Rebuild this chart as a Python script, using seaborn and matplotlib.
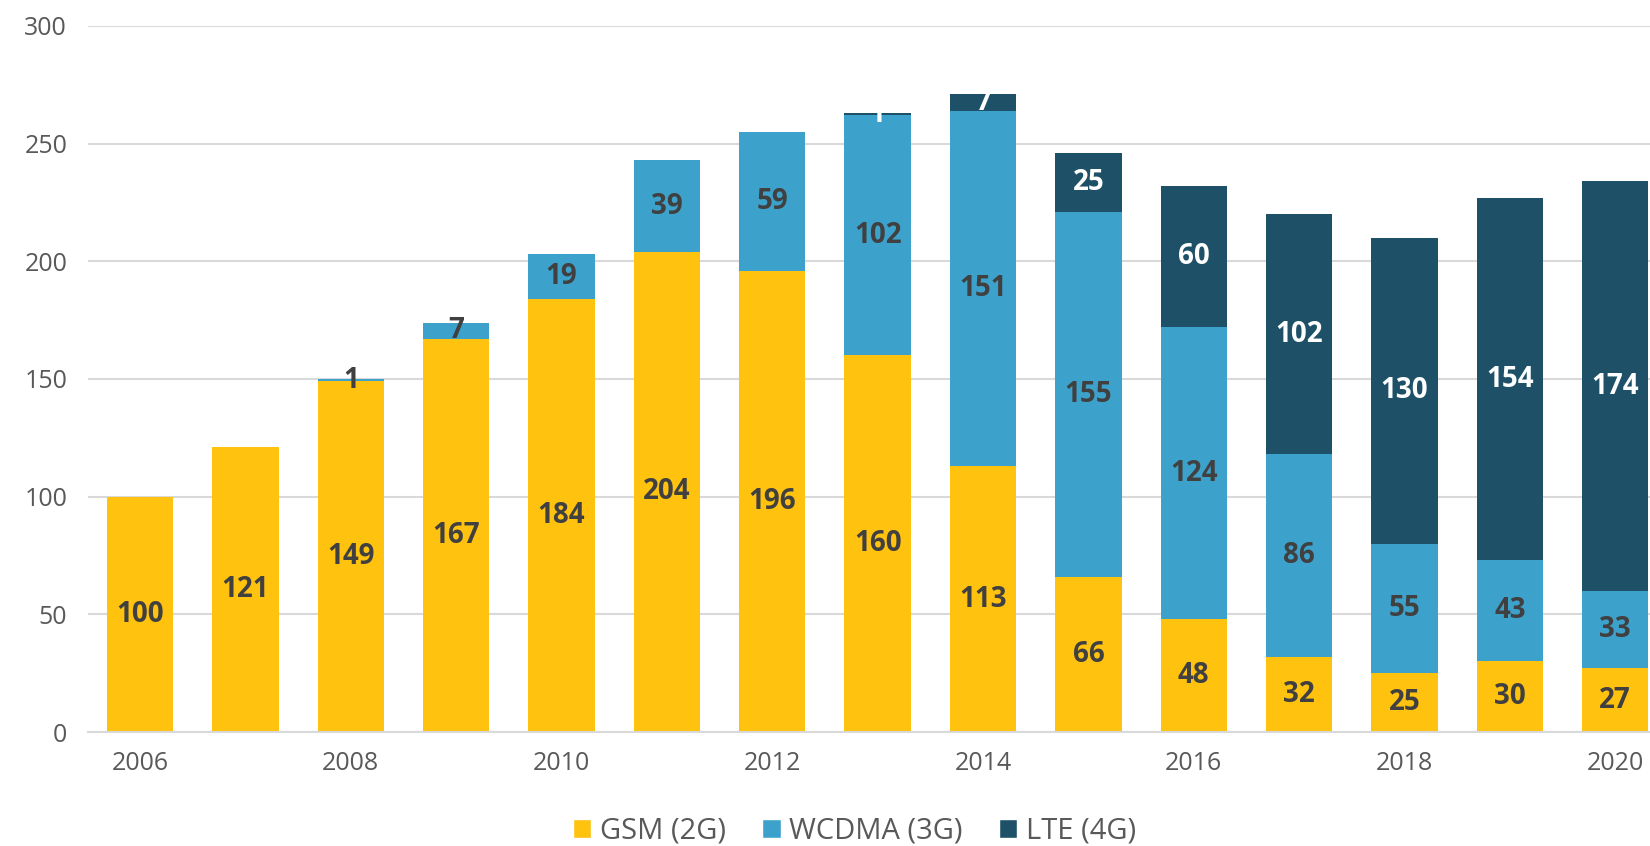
import matplotlib
matplotlib.use("Agg")
import matplotlib.pyplot as plt
import seaborn as sns
import numpy as np
from matplotlib.patches import Patch

years = [str(y) for y in range(2006, 2021)]
gsm = [100, 121, 149, 167, 184, 204, 196, 160, 113, 66, 48, 32, 25, 30, 27]
wcdma = [0, 0, 1, 7, 19, 39, 59, 102, 151, 155, 124, 86, 55, 43, 33]
lte = [0, 0, 0, 0, 0, 0, 0, 1, 7, 25, 60, 102, 130, 154, 174]
series_names = ["GSM (2G)", "WCDMA (3G)", "LTE (4G)"]
colors = ["#FFC20E", "#3DA2CB", "#1E5168"]
label_colors = ["#404040", "#404040", "#FFFFFF"]

sns.set_theme(style="white")
plt.rcParams["font.family"] = ["Open Sans", "DejaVu Sans"]

fig = plt.figure(figsize=(16.5, 8.46), dpi=100)
ax = fig.add_axes([88 / 1650, 1 - 732 / 846, 1 - 88 / 1650, (732 - 26) / 846])

bottom = np.zeros(len(years))
for name, vals, col, lcol in zip(series_names, [gsm, wcdma, lte], colors, label_colors):
    vals = np.array(vals, dtype=float)
    sns.barplot(x=years, y=vals, bottom=bottom, color=col, width=0.63,
                saturation=1, ax=ax, linewidth=0)
    cont = ax.containers[-1]
    labels = [f"{int(v)}" if v > 0 else "" for v in vals]
    ax.bar_label(cont, labels=labels, label_type="center", color=lcol,
                 fontsize=20, fontweight="bold")
    bottom = bottom + vals

ax.set_xlim(-0.494, 14.33)
ax.set_ylim(0, 300)
ax.set_yticks(range(0, 301, 50))
ax.set_xticks(range(0, 15, 2))
ax.set_xticklabels(years[::2])
ax.tick_params(axis="both", length=0, labelsize=18, labelcolor="#595959")
ax.tick_params(axis="y", pad=15)
ax.tick_params(axis="x", pad=14)
ax.yaxis.grid(True, color="#D9D9D9", linewidth=1.5)
ax.set_axisbelow(True)
for s in ["top", "right", "left"]:
    ax.spines[s].set_visible(False)
ax.spines["bottom"].set_color("#D9D9D9")
ax.spines["bottom"].set_linewidth(1.5)
ax.set_xlabel("")
ax.set_ylabel("")

handles = [Patch(facecolor=c, label=n) for c, n in zip(colors, series_names)]
leg = fig.legend(handles=handles, loc="center", bbox_to_anchor=(0.518, 1 - 831 / 846),
                 ncol=3, frameon=False, fontsize=21, handlelength=0.62, handleheight=0.62,
                 handletextpad=0.3, columnspacing=1.25)
for t in leg.get_texts():
    t.set_color("#595959")

fig.savefig("out.png", dpi=100)
